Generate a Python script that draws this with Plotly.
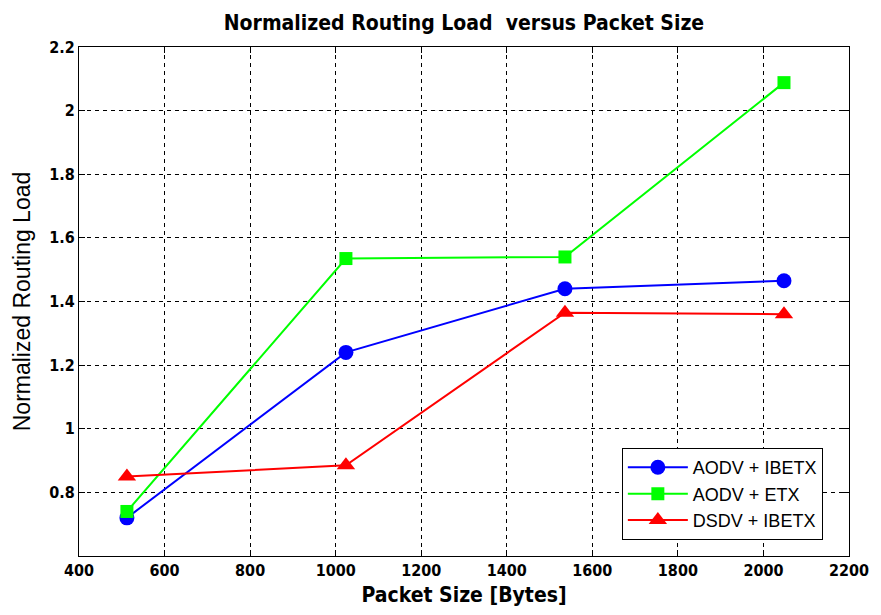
import plotly.graph_objects as go

packet_sizes = [512, 1024, 1536, 2048]
aodv_ibetx = [0.72, 1.24, 1.44, 1.465]
aodv_etx = [0.74, 1.535, 1.54, 2.088]
dsdv_ibetx = [0.85, 0.885, 1.365, 1.36]
x_ticks = [400, 600, 800, 1000, 1200, 1400, 1600, 1800, 2000, 2200]
y_ticks = [0.8, 1.0, 1.2, 1.4, 1.6, 1.8, 2.0, 2.2]
y_tick_labels = ["0.8", "1", "1.2", "1.4", "1.6", "1.8", "2", "2.2"]

series = [
    ("AODV + IBETX", aodv_ibetx, "#0000ff", "circle", 15),
    ("AODV + ETX", aodv_etx, "#00ff00", "square", 13),
    ("DSDV + IBETX", dsdv_ibetx, "#ff0000", "triangle-up", 16),
]

fig = go.Figure()
for name, ys, col, sym, sz in series:
    fig.add_trace(go.Scatter(
        x=packet_sizes, y=ys, name=name, mode="lines+markers",
        line=dict(color=col, width=2),
        marker=dict(symbol=sym, size=sz, color=col, line=dict(width=0)),
    ))

COND = "DejaVu Sans Condensed, Liberation Sans Narrow, sans-serif"
tickfont = dict(family=COND, size=16, color="black", weight="bold")
axis_common = dict(
    showline=True, linecolor="black", linewidth=1, mirror="ticks",
    ticks="inside", ticklen=6, tickcolor="black",
    showgrid=True, gridcolor="black", griddash="4px,4px", gridwidth=1,
    zeroline=False, tickfont=tickfont,
)

fig.update_layout(
    width=881, height=615,
    margin=dict(l=79, r=23, t=47, b=58),
    paper_bgcolor="white", plot_bgcolor="white",
    title=dict(text="<b>Normalized Routing Load  versus Packet Size</b>",
               font=dict(family=COND, size=21, color="black"),
               x=0.5, xanchor="center", xref="paper", y=0.963, yanchor="middle"),
    xaxis=dict(range=[400, 2200],
               tickvals=x_ticks, ticktext=[str(v) for v in x_ticks],
               title=dict(text="<b>Packet Size [Bytes]</b>",
                          font=dict(family=COND, size=21, color="black"),
                          standoff=8),
               **axis_common),
    yaxis=dict(range=[0.6, 2.2],
               tickvals=y_ticks, ticktext=y_tick_labels,
               title=dict(text="Normalized Routing Load",
                          font=dict(family="Liberation Sans, Arial, sans-serif", size=23, color="black"),
                          standoff=12),
               **axis_common),
    legend=dict(x=0.705, y=0.212, xanchor="left", yanchor="top",
                bgcolor="white", bordercolor="black", borderwidth=1,
                font=dict(family="Liberation Sans, Arial, sans-serif", size=18, color="black"),
                itemwidth=60, tracegroupgap=2),
    showlegend=True,
)

fig.write_html("out.html")
